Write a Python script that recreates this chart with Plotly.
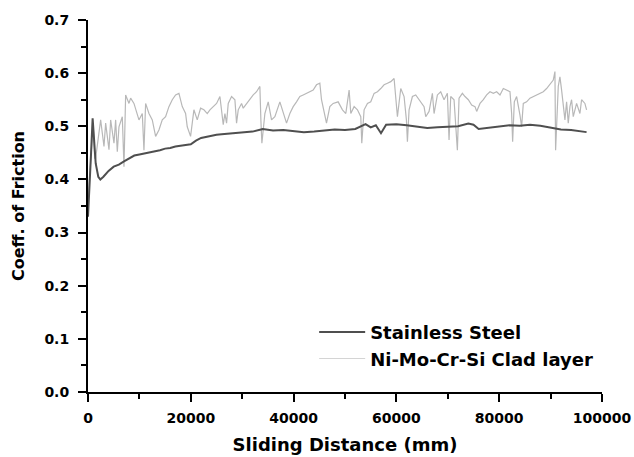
import plotly.graph_objects as go

# Stainless Steel (dark trace)
ss_dist = [0, 300, 600, 900, 1200, 1500, 2000, 2400, 3000, 4000, 5000, 6000, 7000, 8000, 9000,
           10000, 11000, 12000, 13000, 14000, 15000, 16000, 17000, 18000, 19000, 20000, 21000,
           22000, 23000, 24000, 25000, 26000, 28000, 30000, 32000, 34000, 36000, 38000, 40000,
           42000, 44000, 46000, 48000, 50000, 52000, 54000, 55000, 56000, 57000, 58000, 60000,
           62000, 64000, 66000, 68000, 70000, 72000, 74000, 75000, 76000, 78000, 80000, 82000,
           84000, 86000, 88000, 90000, 92000, 94000, 96000, 97000]
ss_cof = [0.33, 0.38, 0.45, 0.515, 0.46, 0.43, 0.405, 0.400, 0.405, 0.416, 0.424, 0.428, 0.434,
          0.440, 0.445, 0.447, 0.449, 0.451, 0.452, 0.455, 0.458, 0.459, 0.462, 0.464, 0.465,
          0.466, 0.473, 0.478, 0.480, 0.483, 0.484, 0.485, 0.487, 0.488, 0.490, 0.495, 0.492,
          0.493, 0.491, 0.489, 0.490, 0.492, 0.494, 0.493, 0.495, 0.504, 0.498, 0.502, 0.487,
          0.503, 0.504, 0.502, 0.500, 0.497, 0.498, 0.499, 0.500, 0.505, 0.503, 0.495, 0.497,
          0.499, 0.502, 0.501, 0.503, 0.501, 0.497, 0.494, 0.493, 0.491, 0.489]

# Ni-Mo-Cr-Si Clad layer (light trace)
ni_dist = [0, 400, 800, 1000, 1300, 1490, 2462, 3110, 3434, 4082, 4406, 5054, 5378, 5702, 6026,
           6674, 7000, 7322, 7970, 8294, 8942, 9590, 9914, 10562, 10886, 11210, 11858, 12506,
           13154, 13802, 14450, 15098, 15746, 16394, 17042, 17690, 18338, 18986, 19310, 19958,
           20606, 21254, 21902, 22550, 23198,
           23720, 24368, 25016, 25664, 25988, 26312, 26636, 26960, 27284, 27932, 28580, 28904,
           29228, 29552, 29876, 30200, 30848, 31496, 32144, 32792, 33440, 33634, 33829, 34412,
           35060, 35708, 36356, 37328, 37976, 38624, 39272, 39920, 40568, 41216, 41864, 42512,
           43160, 43808, 44456, 45104, 45428, 46076, 46400, 47048, 47696, 48668,
           48858, 49506, 50154, 50802, 51126, 51774, 52422, 53070, 53264, 53718, 54366, 55014,
           55662, 56310, 56958, 57606, 58254, 58902, 59550, 59874, 60198, 60846, 61494, 61948,
           62142, 62466, 63114, 63762, 64410, 65058, 65382, 65706, 66354, 67002, 67326, 67974,
           68622, 69270, 69918, 70242, 70566, 71214, 71862, 72186, 72834,
           73348, 73996, 74644, 75292, 75616, 76264, 76912, 77560, 78208, 78856, 79504, 80152,
           80800, 81448, 82096, 82420, 82614, 82938, 83392, 84040, 84364, 84688, 85336, 85984,
           86632, 87280, 87928, 88576, 89224, 89872, 90520, 90844, 90974, 91492, 91816, 92140,
           92464, 92788, 93112, 93436, 93760, 94084, 94408, 95056, 95704, 96028, 96676, 97000]
ni_cof = [0.36, 0.42, 0.47, 0.505, 0.44, 0.440, 0.512, 0.462, 0.506, 0.456, 0.512, 0.468, 0.512,
          0.452, 0.499, 0.518, 0.424, 0.559, 0.543, 0.553, 0.543, 0.524, 0.512, 0.524, 0.455,
          0.543, 0.524, 0.512, 0.481, 0.493, 0.512, 0.518, 0.537, 0.550, 0.559, 0.562, 0.537,
          0.524, 0.499, 0.481, 0.531, 0.512, 0.534, 0.531, 0.524,
          0.531, 0.537, 0.543, 0.556, 0.531, 0.503, 0.524, 0.506, 0.543, 0.556, 0.550, 0.506,
          0.531, 0.537, 0.543, 0.534, 0.543, 0.550, 0.559, 0.565, 0.575, 0.512, 0.468, 0.524,
          0.546, 0.512, 0.518, 0.546, 0.524, 0.506, 0.524, 0.537, 0.546, 0.556, 0.559, 0.562,
          0.565, 0.568, 0.578, 0.581, 0.550, 0.524, 0.506, 0.537, 0.543, 0.546,
          0.543, 0.531, 0.524, 0.568, 0.524, 0.537, 0.531, 0.518, 0.468, 0.531, 0.543, 0.546,
          0.562, 0.565, 0.571, 0.578, 0.581, 0.584, 0.590, 0.550, 0.518, 0.571, 0.556, 0.512,
          0.471, 0.531, 0.556, 0.559, 0.550, 0.543, 0.537, 0.518, 0.528, 0.562, 0.524, 0.559,
          0.565, 0.550, 0.562, 0.474, 0.556, 0.550, 0.455, 0.553, 0.562,
          0.556, 0.550, 0.540, 0.537, 0.528, 0.543, 0.550, 0.559, 0.565, 0.562, 0.565, 0.559,
          0.571, 0.568, 0.565, 0.524, 0.471, 0.546, 0.556, 0.521, 0.499, 0.543, 0.546, 0.553,
          0.556, 0.559, 0.562, 0.565, 0.571, 0.578, 0.587, 0.603, 0.455, 0.575, 0.593, 0.568,
          0.543, 0.512, 0.546, 0.506, 0.537, 0.550, 0.518, 0.543, 0.524, 0.550, 0.543, 0.531]

x_ticks = [0, 20000, 40000, 60000, 80000, 100000]
y_ticks = [0.0, 0.1, 0.2, 0.3, 0.4, 0.5, 0.6, 0.7]

FONT = "DejaVu Sans, Liberation Sans, Arial, sans-serif"

fig = go.Figure()
fig.add_trace(go.Scatter(x=ni_dist, y=ni_cof, mode="lines", name="Ni-Mo-Cr-Si Clad layer",
                         line=dict(color="#b8b8b8", width=1.2), showlegend=False))
fig.add_trace(go.Scatter(x=ss_dist, y=ss_cof, mode="lines", name="Stainless Steel",
                         line=dict(color="#4f4f4f", width=2)))
# legend entry for clad layer (listed after stainless steel)
fig.add_trace(go.Scatter(x=[None], y=[None], mode="lines", name="Ni-Mo-Cr-Si Clad layer",
                         line=dict(color="#d4d4d4", width=1.2)))

axis_common = dict(
    showline=True, linecolor="black", linewidth=2,
    ticks="outside", ticklen=8, tickwidth=2, tickcolor="black",
    showgrid=False, zeroline=False, mirror=False, automargin=False,
    tickfont=dict(family=FONT, size=14, color="black", weight="bold"),
)

fig.update_layout(
    width=634, height=457,
    margin=dict(l=88, r=32, t=20, b=65),
    paper_bgcolor="white", plot_bgcolor="white",
    font=dict(family=FONT, color="black"),
    xaxis=dict(range=[0, 100000], tickvals=x_ticks, tickformat="d", ticklabelstandoff=4,
               minor=dict(ticks="outside", ticklen=5, tickwidth=2, tickcolor="black", dtick=10000),
               title=dict(text="Sliding Distance (mm)", standoff=14,
                          font=dict(family=FONT, size=18, color="black", weight="bold")),
               **axis_common),
    yaxis=dict(range=[0, 0.7], tickvals=y_ticks, tickformat=".1f", ticklabelstandoff=6,
               minor=dict(ticks="outside", ticklen=5, tickwidth=2, tickcolor="black", dtick=0.05),
               title=dict(text="Coeff. of Friction", standoff=16,
                          font=dict(family=FONT, size=16, color="black", weight="bold")),
               **axis_common),
    legend=dict(x=0.44, y=0.21, xanchor="left", yanchor="top", bgcolor="rgba(0,0,0,0)",
                font=dict(family=FONT, size=18, color="black", weight="bold"),
                tracegroupgap=0, itemwidth=46),
)

fig.write_html("out.html")
